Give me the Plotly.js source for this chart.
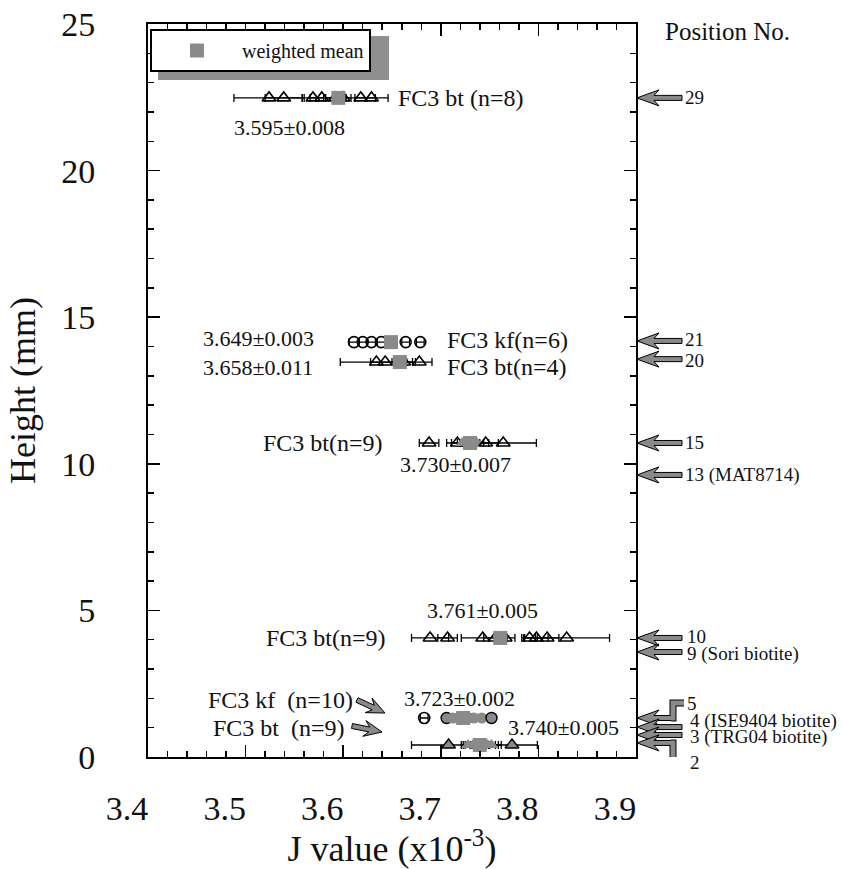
<!DOCTYPE html>
<html><head><meta charset="utf-8">
<script src="https://cdn.plot.ly/plotly-3.0.1.min.js"></script>
<style>html,body{margin:0;padding:0;background:#fff}#chart{width:845px;height:869px}</style>
</head><body><div id="chart"></div>
<script>
// ---------------- data ----------------
const groupHeight  = [22.48, 14.15, 13.47, 10.71, 4.06, 1.33, 0.41];   // mm
const groupMineral = ['bt', 'kf', 'bt', 'bt', 'bt', 'kf', 'bt'];

const jA = [3.524, 3.539, 3.569, 3.578, 3.592, 3.600, 3.618, 3.629];
const eA = [0.036, 0.019, 0.011, 0.012, 0.010, 0.008, 0.015, 0.017];
const jB = [3.611, 3.620, 3.629, 3.639, 3.664, 3.679];
const eB = [0.005, 0.004, 0.004, 0.004, 0.004, 0.004];
const jC = [3.634, 3.643, 3.662, 3.678];
const eC = [0.037, 0.015, 0.012, 0.013];
const jD = [3.688, 3.717, 3.722, 3.727, 3.730, 3.733, 3.737, 3.746, 3.764];
const eD = [0.010, 0.011, 0.011, 0.010, 0.010, 0.011, 0.012, 0.013, 0.034];
const jE = [3.689, 3.707, 3.743, 3.756, 3.766, 3.791, 3.798, 3.809, 3.829];
const eE = [0.019, 0.010, 0.022, 0.012, 0.010, 0.008, 0.012, 0.012, 0.044];
const jF = [3.683, 3.706, 3.712, 3.717, 3.721, 3.725, 3.729, 3.734, 3.742, 3.752];
const eF = [0.004, 0.003, 0.003, 0.003, 0.003, 0.003, 0.003, 0.003, 0.003, 0.004];
const jG = [3.708, 3.728, 3.733, 3.737, 3.740, 3.744, 3.748, 3.752, 3.773];
const eG = [0.038, 0.007, 0.010, 0.012, 0.010, 0.012, 0.011, 0.010, 0.026];

const meanJ   = [3.595, 3.649, 3.658, 3.730, 3.761, 3.723, 3.740];
const meanErr = [0.008, 0.003, 0.011, 0.007, 0.005, 0.002, 0.005];

const positionNo     = ['29', '21', '20', '15', '13 (MAT8714)', '10', '9 (Sori biotite)',
                        '5', '4 (ISE9404 biotite)', '3 (TRG04 biotite)', '2'];
const positionHeight = [22.48, 14.19, 13.57, 10.71, 9.62, 4.06, 3.58, 1.33, 1.02, 0.75, 0.48];

const xTickVals = [3.4, 3.5, 3.6, 3.7, 3.8, 3.9];
const xTickText = ['3.4', '3.5', '3.6', '3.7', '3.8', '3.9'];
const yTickVals = [0, 5, 10, 15, 20, 25];
const yTickText = ['0', '5', '10', '15', '20', '25'];

// ---------------- layout helpers ----------------
const L = 148, R = 636, T = 24, B = 757, W = R - L, H = B - T;
const px = x => (x - L) / W;
const py = y => (B - y) / H;
const FONT = 'Liberation Serif, Times New Roman, serif';
const GREY = '#8a8a8a';

const jSets = [jA, jB, jC, jD, jE, jF, jG];
const eSets = [eA, eB, eC, eD, eE, eF, eG];

// style: markers that appear grey-filled (overlapping the mean) and which keep an outline
const greyFill = {3: {fill: [2, 3, 4, 5, 6], outline: []},
                  5: {fill: [1, 2, 3, 4, 5, 6, 7, 8, 9], outline: [1, 9]},
                  6: {fill: [0, 1, 2, 3, 4, 5, 6, 7, 8], outline: [0, 8]}};

// text placement (pixels) for sample and mean labels
const sampleLabelPos = [
  {x: 396, y: 98,  a: 'left',  gap: ' '},
  {x: 445, y: 340, a: 'left',  gap: ''},
  {x: 445, y: 367, a: 'left',  gap: ''},
  {x: 385, y: 443, a: 'right', gap: ''},
  {x: 388, y: 638, a: 'right', gap: ''},
  {x: 355, y: 700, a: 'right', gap: '\u00a0 '},
  {x: 347, y: 728, a: 'right', gap: '\u00a0 '}
];
const meanLabelPos = [
  {x: 289, y: 127}, {x: 258, y: 338}, {x: 258, y: 367}, {x: 455, y: 465},
  {x: 482, y: 610}, {x: 459, y: 698}, {x: 563, y: 727}
];
const posLabelStyle = [
  {x: 683, dy: 0}, {x: 683, dy: 1}, {x: 683, dy: -1}, {x: 683, dy: 0}, {x: 683, dy: 0},
  {x: 685, dy: 1}, {x: 685, dy: -2}, {x: 685, dy: 15}, {x: 688, dy: 6}, {x: 688, dy: -2}, {x: 688, dy: -20}
];

// ---------------- traces ----------------
const traces = [];
jSets.forEach((js, g) => {
  const kf = groupMineral[g] === 'kf';
  const st = greyFill[g] || {fill: [], outline: []};
  const sym = [], col = [], lw = [];
  js.forEach((_, i) => {
    const filled = st.fill.includes(i);
    sym.push(filled ? (kf ? 'circle' : 'triangle-up') : (kf ? 'circle-open' : 'triangle-up-open'));
    col.push(filled ? GREY : '#000');
    lw.push(filled ? (st.outline.includes(i) ? 1.4 : 0) : 1.6);
  });
  traces.push({
    type: 'scatter', mode: 'markers', showlegend: false, hoverinfo: 'x',
    x: js, y: js.map(() => groupHeight[g]),
    error_x: {type: 'data', array: eSets[g], visible: true, color: '#000', thickness: 1.3, width: 4},
    marker: {symbol: sym, size: kf ? 11 : 12, color: col, line: {width: lw, color: '#000'}}
  });
});
traces.push({
  type: 'scatter', mode: 'markers', name: 'weighted mean', showlegend: true,
  x: meanJ, y: groupHeight,
  marker: {symbol: 'square', size: 14, color: GREY, line: {width: 0}}
});

// ---------------- annotations ----------------
const annotations = [];
jSets.forEach((js, g) => {
  const s = sampleLabelPos[g];
  annotations.push({
    xref: 'paper', yref: 'paper', x: px(s.x), y: py(s.y), xanchor: s.a, yanchor: 'middle',
    text: 'FC3 ' + groupMineral[g] + s.gap + '(n=' + js.length + ')', showarrow: false,
    font: {family: FONT, size: 24, color: '#111'}
  });
  const m = meanLabelPos[g];
  annotations.push({
    xref: 'paper', yref: 'paper', x: px(m.x), y: py(m.y), xanchor: 'center', yanchor: 'middle',
    text: meanJ[g].toFixed(3) + '±' + meanErr[g].toFixed(3), showarrow: false,
    font: {family: FONT, size: 22, color: '#111'}
  });
});
annotations.push({
  xref: 'paper', yref: 'paper', x: px(663), y: py(32), xanchor: 'left', yanchor: 'middle',
  text: 'Position No.', showarrow: false, font: {family: FONT, size: 25, color: '#111'}
});
positionNo.forEach((lab, i) => {
  annotations.push({
    xref: 'paper', yref: 'y', x: px(posLabelStyle[i].x), y: positionHeight[i],
    yshift: posLabelStyle[i].dy, xanchor: 'left', yanchor: 'middle',
    text: lab, showarrow: false, font: {family: FONT, size: 19, color: '#111'}
  });
});

// ---------------- arrow shapes ----------------
function arrowPath(dx, dy, len, hl, hw, sw, notch) {
  const n = Math.hypot(dx, dy); dx /= n; dy /= n;
  const nx = -dy, ny = dx;
  const P = (a, b) => (dx * a + nx * b).toFixed(2) + ',' + (dy * a + ny * b).toFixed(2);
  return 'M0,0 L' + P(hl, hw) + ' L' + P(notch, sw) + ' L' + P(len, sw) + ' L' + P(len, -sw) +
         ' L' + P(notch, -sw) + ' L' + P(hl, -hw) + ' Z';
}
const shapes = [];
// legend drop shadow
shapes.push({type: 'rect', xref: 'paper', yref: 'paper', x0: px(158), x1: px(389), y0: py(80), y1: py(36),
             fillcolor: '#8f8f8f', line: {width: 0}, layer: 'above'});

const elbow = {7: 15, 10: -20};
positionHeight.forEach((h, i) => {
  const base = {xref: 'paper', yref: 'y', xsizemode: 'pixel', ysizemode: 'pixel',
                xanchor: 1 + 1 / W, yanchor: h, layer: 'above'};
  if (elbow[i] !== undefined) {
    const d = elbow[i];
    const conn = 'M34,0 L36,0 L36,' + d + ' L47,' + d;
    shapes.push(Object.assign({type: 'path', path: conn, line: {color: '#000', width: 7}}, base));
    shapes.push(Object.assign({type: 'path', path: arrowPath(1, 0, 36, 22, 8, 2.5, 17),
                               fillcolor: GREY, line: {color: '#000', width: 1}}, base));
    shapes.push(Object.assign({type: 'path', path: conn, line: {color: GREY, width: 5}}, base));
  } else {
    shapes.push(Object.assign({type: 'path', path: arrowPath(1, 0, 45, 22, 8, 2.5, 17),
                               fillcolor: GREY, line: {color: '#000', width: 1}}, base));
  }
});
// pointer arrows beside the lowest sample labels
[[385, 713, -28, 13], [382, 732, -30, 6]].forEach(a => {
  shapes.push({type: 'path', xref: 'paper', yref: 'paper', xsizemode: 'pixel', ysizemode: 'pixel',
               xanchor: px(a[0]), yanchor: py(a[1]), layer: 'above',
               path: arrowPath(a[2], a[3], Math.hypot(a[2], a[3]), 18, 8, 2.5, 13),
               fillcolor: GREY, line: {color: '#000', width: 1}});
});

// ---------------- layout ----------------
const layout = {
  width: 845, height: 869,
  margin: {l: L, r: 845 - R, t: T, b: 869 - B, pad: 0},
  paper_bgcolor: '#fff', plot_bgcolor: '#fff',
  font: {family: FONT, color: '#111'},
  showlegend: true,
  legend: {x: px(150), y: py(29), xanchor: 'left', yanchor: 'top', bgcolor: '#fff',
           bordercolor: '#000', borderwidth: 2, font: {family: FONT, size: 20, color: '#111'},
           itemwidth: 80},
  xaxis: {
    range: [3.3999, 3.9001], tickmode: 'array', tickvals: xTickVals, ticktext: xTickText,
    ticks: 'inside', ticklen: 12, tickwidth: 1.5, tickcolor: '#000',
    ticklabelshift: -21, ticklabelstandoff: 20,
    tickfont: {family: FONT, size: 34, color: '#111'},
    minor: {tickmode: 'linear', tick0: 3.4, dtick: 0.02, ticks: 'inside', ticklen: 6, tickwidth: 1.5, tickcolor: '#000', showgrid: false},
    showline: true, linewidth: 2, linecolor: '#000', mirror: 'allticks',
    showgrid: false, zeroline: false,
    title: {text: 'J value (x10<sup>-3</sup>)', font: {family: FONT, size: 36, color: '#111'}, standoff: 5}
  },
  yaxis: {
    range: [0, 25], tickmode: 'array', tickvals: yTickVals, ticktext: yTickText,
    ticks: 'inside', ticklen: 12, tickwidth: 1.5, tickcolor: '#000',
    ticklabelstandoff: 44,
    tickfont: {family: FONT, size: 34, color: '#111'},
    minor: {tickmode: 'linear', tick0: 0, dtick: 1, ticks: 'inside', ticklen: 6, tickwidth: 1.5, tickcolor: '#000', showgrid: false},
    showline: true, linewidth: 2, linecolor: '#000', mirror: 'allticks',
    showgrid: false, zeroline: false,
    title: {text: 'Height (mm)', font: {family: FONT, size: 36, color: '#111'}, standoff: 15}
  },
  annotations: annotations,
  shapes: shapes
};

Plotly.newPlot('chart', traces, layout, {displayModeBar: false, staticPlot: true});
</script>
</body></html>
